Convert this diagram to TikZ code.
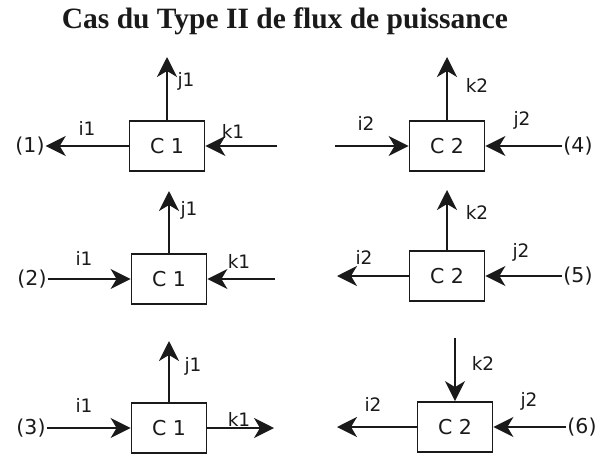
\documentclass[tikz,border=0pt]{standalone}
\usepackage{fontspec}
\setmainfont{DejaVu Sans}
\newfontfamily\titlefont{Liberation Serif}
\usetikzlibrary{arrows.meta}
\definecolor{ink}{HTML}{1A1A1A}
\begin{document}
\begin{tikzpicture}[x=1pt,y=-1pt,
  box/.style={draw=ink, line width=1.8pt, minimum width=75pt, minimum height=50pt, inner sep=0pt, font=\fontsize{20.5}{22}\selectfont, text=ink},
  flow/.style={draw=ink, line width=1.8pt, -{Stealth[length=20pt,width=20pt,inset=6pt]}},
  lab/.style={font=\fontsize{18.5}{20}\selectfont, inner sep=0pt, text=ink},
  num/.style={font=\fontsize{20.5}{22}\selectfont, inner sep=1pt, text=ink}]
\useasboundingbox (0,0) rectangle (600,458);
\node[font=\titlefont\bfseries\fontsize{29.5}{33}\selectfont, text=ink] (title) at (285,21) {Cas du Type II de flux de puissance};

% ---------- Case (1)
\node[box] (c1a) at (167,146) {C 1};
\node[num] (n1) at (30,146) {(1)};
\coordinate (c1aup) at (167,57);
\coordinate (c1ar) at (277,146);
\draw[flow] (c1a.north) -- (c1aup);
\draw[flow] (c1a.west) -- (n1.east);
\draw[flow] (c1ar) -- (c1a.east);
\node[lab] (j1a) at (186,81) {j1};
\node[lab] (i1a) at (87,128) {i1};
\node[lab] (k1a) at (233,131) {k1};

% ---------- Case (2)
\node[box] (c1b) at (169,279) {C 1};
\node[num] (n2) at (32,279) {(2)};
\coordinate (c1bup) at (169,191);
\coordinate (c1br) at (275,279);
\draw[flow] (c1b.north) -- (c1bup);
\draw[flow] (n2.east) -- (c1b.west);
\draw[flow] (c1br) -- (c1b.east);
\node[lab] (j1b) at (189,210) {j1};
\node[lab] (i1b) at (84,258) {i1};
\node[lab] (k1b) at (239,261) {k1};

% ---------- Case (3)
\node[box] (c1c) at (169,428) {C 1};
\node[num] (n3) at (31,428) {(3)};
\coordinate (c1cup) at (169,341);
\coordinate (c1cr) at (274,428);
\draw[flow] (c1c.north) -- (c1cup);
\draw[flow] (n3.east) -- (c1c.west);
\draw[flow] (c1c.east) -- (c1cr);
\node[lab] (j1c) at (193,366) {j1};
\node[lab] (i1c) at (84,405) {i1};
\node[lab] (k1c) at (239,419) {k1};

% ---------- Case (4)
\node[box] (c2a) at (447,146) {C 2};
\node[num] (n4) at (578,146) {(4)};
\coordinate (c2aup) at (447,57);
\coordinate (c2al) at (335,146);
\draw[flow] (c2a.north) -- (c2aup);
\draw[flow] (c2al) -- (c2a.west);
\draw[flow] (n4.west) -- (c2a.east);
\node[lab] (k2a) at (477,85) {k2};
\node[lab] (i2a) at (366,123) {i2};
\node[lab] (j2a) at (522,120) {j2};

% ---------- Case (5)
\node[box] (c2b) at (447,276) {C 2};
\node[num] (n5) at (578,276) {(5)};
\coordinate (c2bup) at (447,190);
\coordinate (c2bl) at (337,276);
\draw[flow] (c2b.north) -- (c2bup);
\draw[flow] (c2b.west) -- (c2bl);
\draw[flow] (n5.west) -- (c2b.east);
\node[lab] (k2b) at (477,212) {k2};
\node[lab] (i2b) at (364,257) {i2};
\node[lab] (j2b) at (521,252) {j2};

% ---------- Case (6)
\node[box] (c2c) at (455,427) {C 2};
\node[num] (n6) at (582,427) {(6)};
\coordinate (c2ctop) at (455,338);
\coordinate (c2cl) at (337,427);
\draw[flow] (c2ctop) -- (c2c.north);
\draw[flow] (c2c.west) -- (c2cl);
\draw[flow] (n6.west) -- (c2c.east);
\node[lab] (k2c) at (483,363) {k2};
\node[lab] (i2c) at (373,404) {i2};
\node[lab] (j2c) at (529,401) {j2};
\end{tikzpicture}
\end{document}
